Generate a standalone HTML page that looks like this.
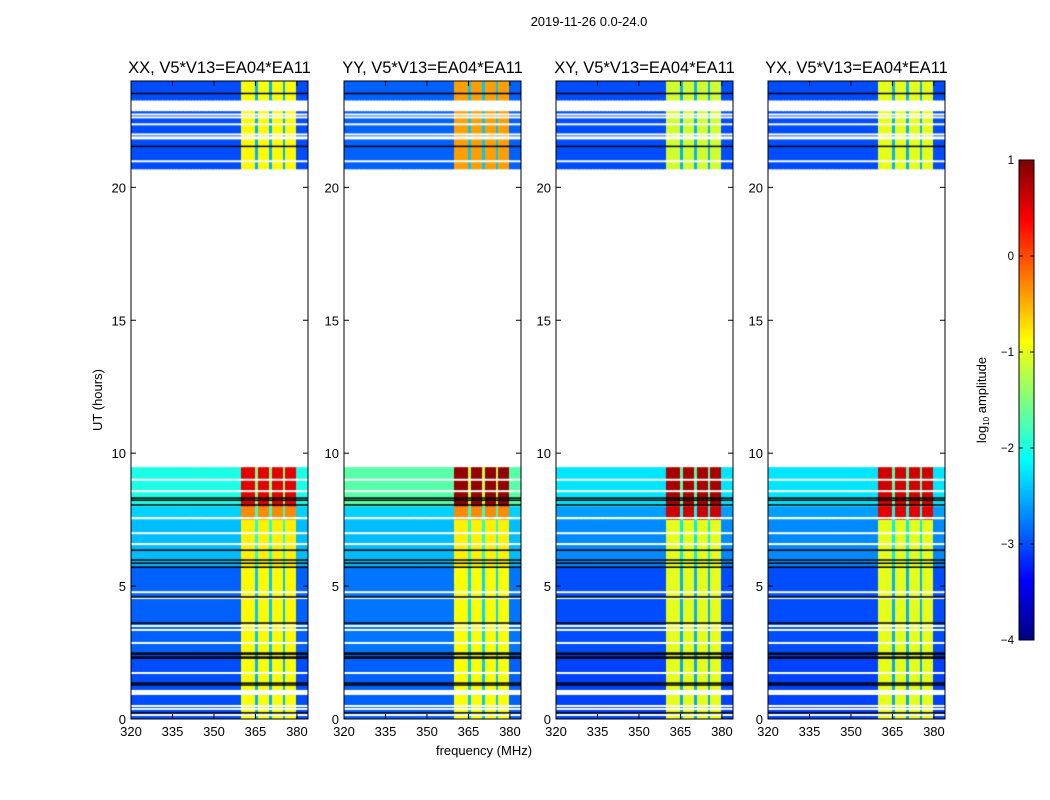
<!DOCTYPE html>
<html><head><meta charset="utf-8"><style>
body{margin:0;background:#fff;width:1050px;height:800px;overflow:hidden;position:relative;font-family:"Liberation Sans",sans-serif}
canvas{position:absolute}
svg{position:absolute;left:0;top:0}
</style></head><body>
<div>
<canvas id="c0" width="177" height="638" style="left:131px;top:81px"></canvas>
<canvas id="c1" width="177" height="638" style="left:344px;top:81px"></canvas>
<canvas id="c2" width="177" height="638" style="left:556px;top:81px"></canvas>
<canvas id="c3" width="177" height="638" style="left:768px;top:81px"></canvas>
<canvas id="cb" width="15" height="480" style="left:1019px;top:160px"></canvas>
<svg id="ov" width="1050" height="800"></svg>
</div>
<script>
// ---- data ----
const titles = ["XX, V5*V13=EA04*EA11","YY, V5*V13=EA04*EA11","XY, V5*V13=EA04*EA11","YX, V5*V13=EA04*EA11"];
const xTicks = [320,335,350,365,380];
const yTicks = [0,5,10,15,20];
const cbTicks = [-4,-3,-2,-1,0,1];
// channel type per 1 MHz from 320 to 383: 0 low band, 1 RFI band, 2 gap channel
const chanType = [0,0,0,0,0,0,0,0,0,0, 0,0,0,0,0,0,0,0,0,0, 0,0,0,0,0,0,0,0,0,0, 0,0,0,0,0,0,0,0,0,0,
  1,1,1,1,1,2,1,1,1,1, 2,1,1,1,1,2,1,1,1,1, 0,0,0,0];
// time segments [startHour, endHour]
const segStart = [0, 2.5, 5.75, 7.5, 8, 20.68, 23.27];
const segEnd   = [2.5, 5.75, 7.5, 8, 9.47, 22.86, 24];
// log amplitude per segment: low band, RFI band, per panel
const loXX = [-3.0,-2.9,-2.45,-2.35,-2.0,-3.0,-3.0];
const hiXX = [-0.9,-0.85,-0.8,-0.3,0.5,-0.85,-0.9];
const loYY = [-2.9,-2.8,-2.45,-2.35,-1.7,-2.9,-2.9];
const hiYY = [-0.9,-0.9,-0.8,-0.3,0.9,-0.4,-0.4];
const loXY = [-3.05,-3.0,-2.7,-2.6,-2.25,-3.0,-3.0];
const hiXY = [-1.0,-1.0,-1.0,0.6,0.8,-1.1,-1.1];
const loYX = [-3.05,-3.0,-2.7,-2.6,-2.25,-3.0,-3.0];
const hiYX = [-1.0,-1.0,-1.0,0.5,0.6,-1.0,-1.0];
// flagged (white) and dropout (black) hours
const whiteHours = [9.0,8.57,7.56,6.99,6.58,4.77,4.55,3.50,3.35,2.86,1.73,0.49,0.38,0.15,22.74,22.63,22.37,21.99,21.88,21.84,20.98];
const thickWhite = [0.98];
const blackHours = [8.31,8.23,8.05,6.35,5.98,5.86,5.71,4.59,3.61,2.48,2.44,2.33,2.29,1.35,1.28,0.23,23.53,21.54];

const LO=[loXX,loYY,loXY,loYX], HI=[hiXX,hiYY,hiXY,hiYX];
const lefts=[131,344,556,768], W=177, TOP=81, H=638;
const fx = f => (f-320)*W/64;
const hy = h => H - h*H/24;
function jet(v){let t=(v+4)/5;t=Math.max(0,Math.min(1,t));
 const c=x=>Math.round(255*Math.max(0,Math.min(1,x)));
 return `rgb(${c(1.5-Math.abs(4*t-3))},${c(1.5-Math.abs(4*t-2))},${c(1.5-Math.abs(4*t-1))})`;}

for(let p=0;p<4;p++){
 const ctx=document.getElementById('c'+p).getContext('2d');
 ctx.fillStyle='#fff';ctx.fillRect(0,0,W,H);
 for(let s=0;s<segStart.length;s++){
  const y0=hy(segEnd[s]), y1=hy(segStart[s]);
  for(let c=0;c<chanType.length;c++){
   const t=chanType[c];
   const v = t===1?HI[p][s]:(t===2?LO[p][s]+0.5:LO[p][s]);
   ctx.fillStyle=jet(v);
   const x0=fx(320+c), x1=fx(321+c);
   ctx.fillRect(Math.floor(x0),y0,Math.ceil(x1)-Math.floor(x0),y1-y0);
  }
 }
 ctx.fillStyle='#fff';
 whiteHours.forEach(h=>ctx.fillRect(0,hy(h)-1,W,2));
 thickWhite.forEach(h=>ctx.fillRect(0,hy(h)-3,W,5));
 ctx.fillStyle='#000';
 blackHours.forEach(h=>ctx.fillRect(0,hy(h)-0.75,W,1.5));
}
// colorbar
{const ctx=document.getElementById('cb').getContext('2d');
 for(let i=0;i<480;i++){ctx.fillStyle=jet(1-5*i/480);ctx.fillRect(0,i,15,1);} }

const NS='http://www.w3.org/2000/svg', ov=document.getElementById('ov');
function el(tag,attrs,name,text){const e=document.createElementNS(NS,tag);
 for(const k in attrs)e.setAttribute(k,attrs[k]);
 
 
 if(text!==undefined)e.textContent=text;ov.appendChild(e);return e;}
el('text',{x:589,y:26,'font-size':13,'text-anchor':'middle'},'figure-title','2019-11-26 0.0-24.0');
for(let p=0;p<4;p++){
 const L=lefts[p];
 el('rect',{x:L,y:TOP,width:W,height:H,fill:'none',stroke:'#000','stroke-width':1},'panel-frame');
 el('text',{x:L+W/2,y:73,'font-size':16.5,'text-anchor':'middle'},'panel-title',titles[p]);
 xTicks.forEach(f=>{const x=L+fx(f);
  el('line',{x1:x,x2:x,y1:TOP+H,y2:TOP+H-5,stroke:'#000'},'x-tick');
  el('line',{x1:x,x2:x,y1:TOP,y2:TOP+5,stroke:'#000'},'x-tick-top');
  el('text',{x:x,y:TOP+H+17,'font-size':13,'text-anchor':'middle'},'x-tick-label',String(f));});
 yTicks.forEach(h=>{const y=TOP+hy(h);
  el('line',{x1:L,x2:L+5,y1:y,y2:y,stroke:'#000'},'y-tick');
  el('line',{x1:L+W,x2:L+W-5,y1:y,y2:y,stroke:'#000'},'y-tick-right');
  el('text',{x:L-5,y:y+5,'font-size':13,'text-anchor':'end'},'y-tick-label',String(h));});
}
el('text',{x:484,y:755,'font-size':13,'text-anchor':'middle'},'x-axis-title','frequency (MHz)');
el('text',{x:102,y:400,'font-size':13,'text-anchor':'middle',transform:'rotate(-90 102 400)'},'y-axis-title','UT (hours)');
el('rect',{x:1019,y:160,width:15,height:480,fill:'none',stroke:'#000'},'colorbar-frame');
cbTicks.forEach(v=>{const y=160+(1-v)*96;
 el('line',{x1:1019,x2:1023,y1:y,y2:y,stroke:'#000'},'colorbar-tick');
 el('line',{x1:1030,x2:1034,y1:y,y2:y,stroke:'#000'},'colorbar-tick-right');
 el('text',{x:1014,y:y+4,'font-size':11.5,'text-anchor':'end'},'colorbar-tick-label',(v<0?'\u2212':'')+Math.abs(v));});
const lab=el('text',{x:986,y:400,'font-size':13,'text-anchor':'middle',transform:'rotate(-90 986 400)'},'colorbar-label');
lab.innerHTML='log<tspan font-size="8" dy="3">10</tspan><tspan dy="-3"> amplitude</tspan>';
</script>
</body></html>
